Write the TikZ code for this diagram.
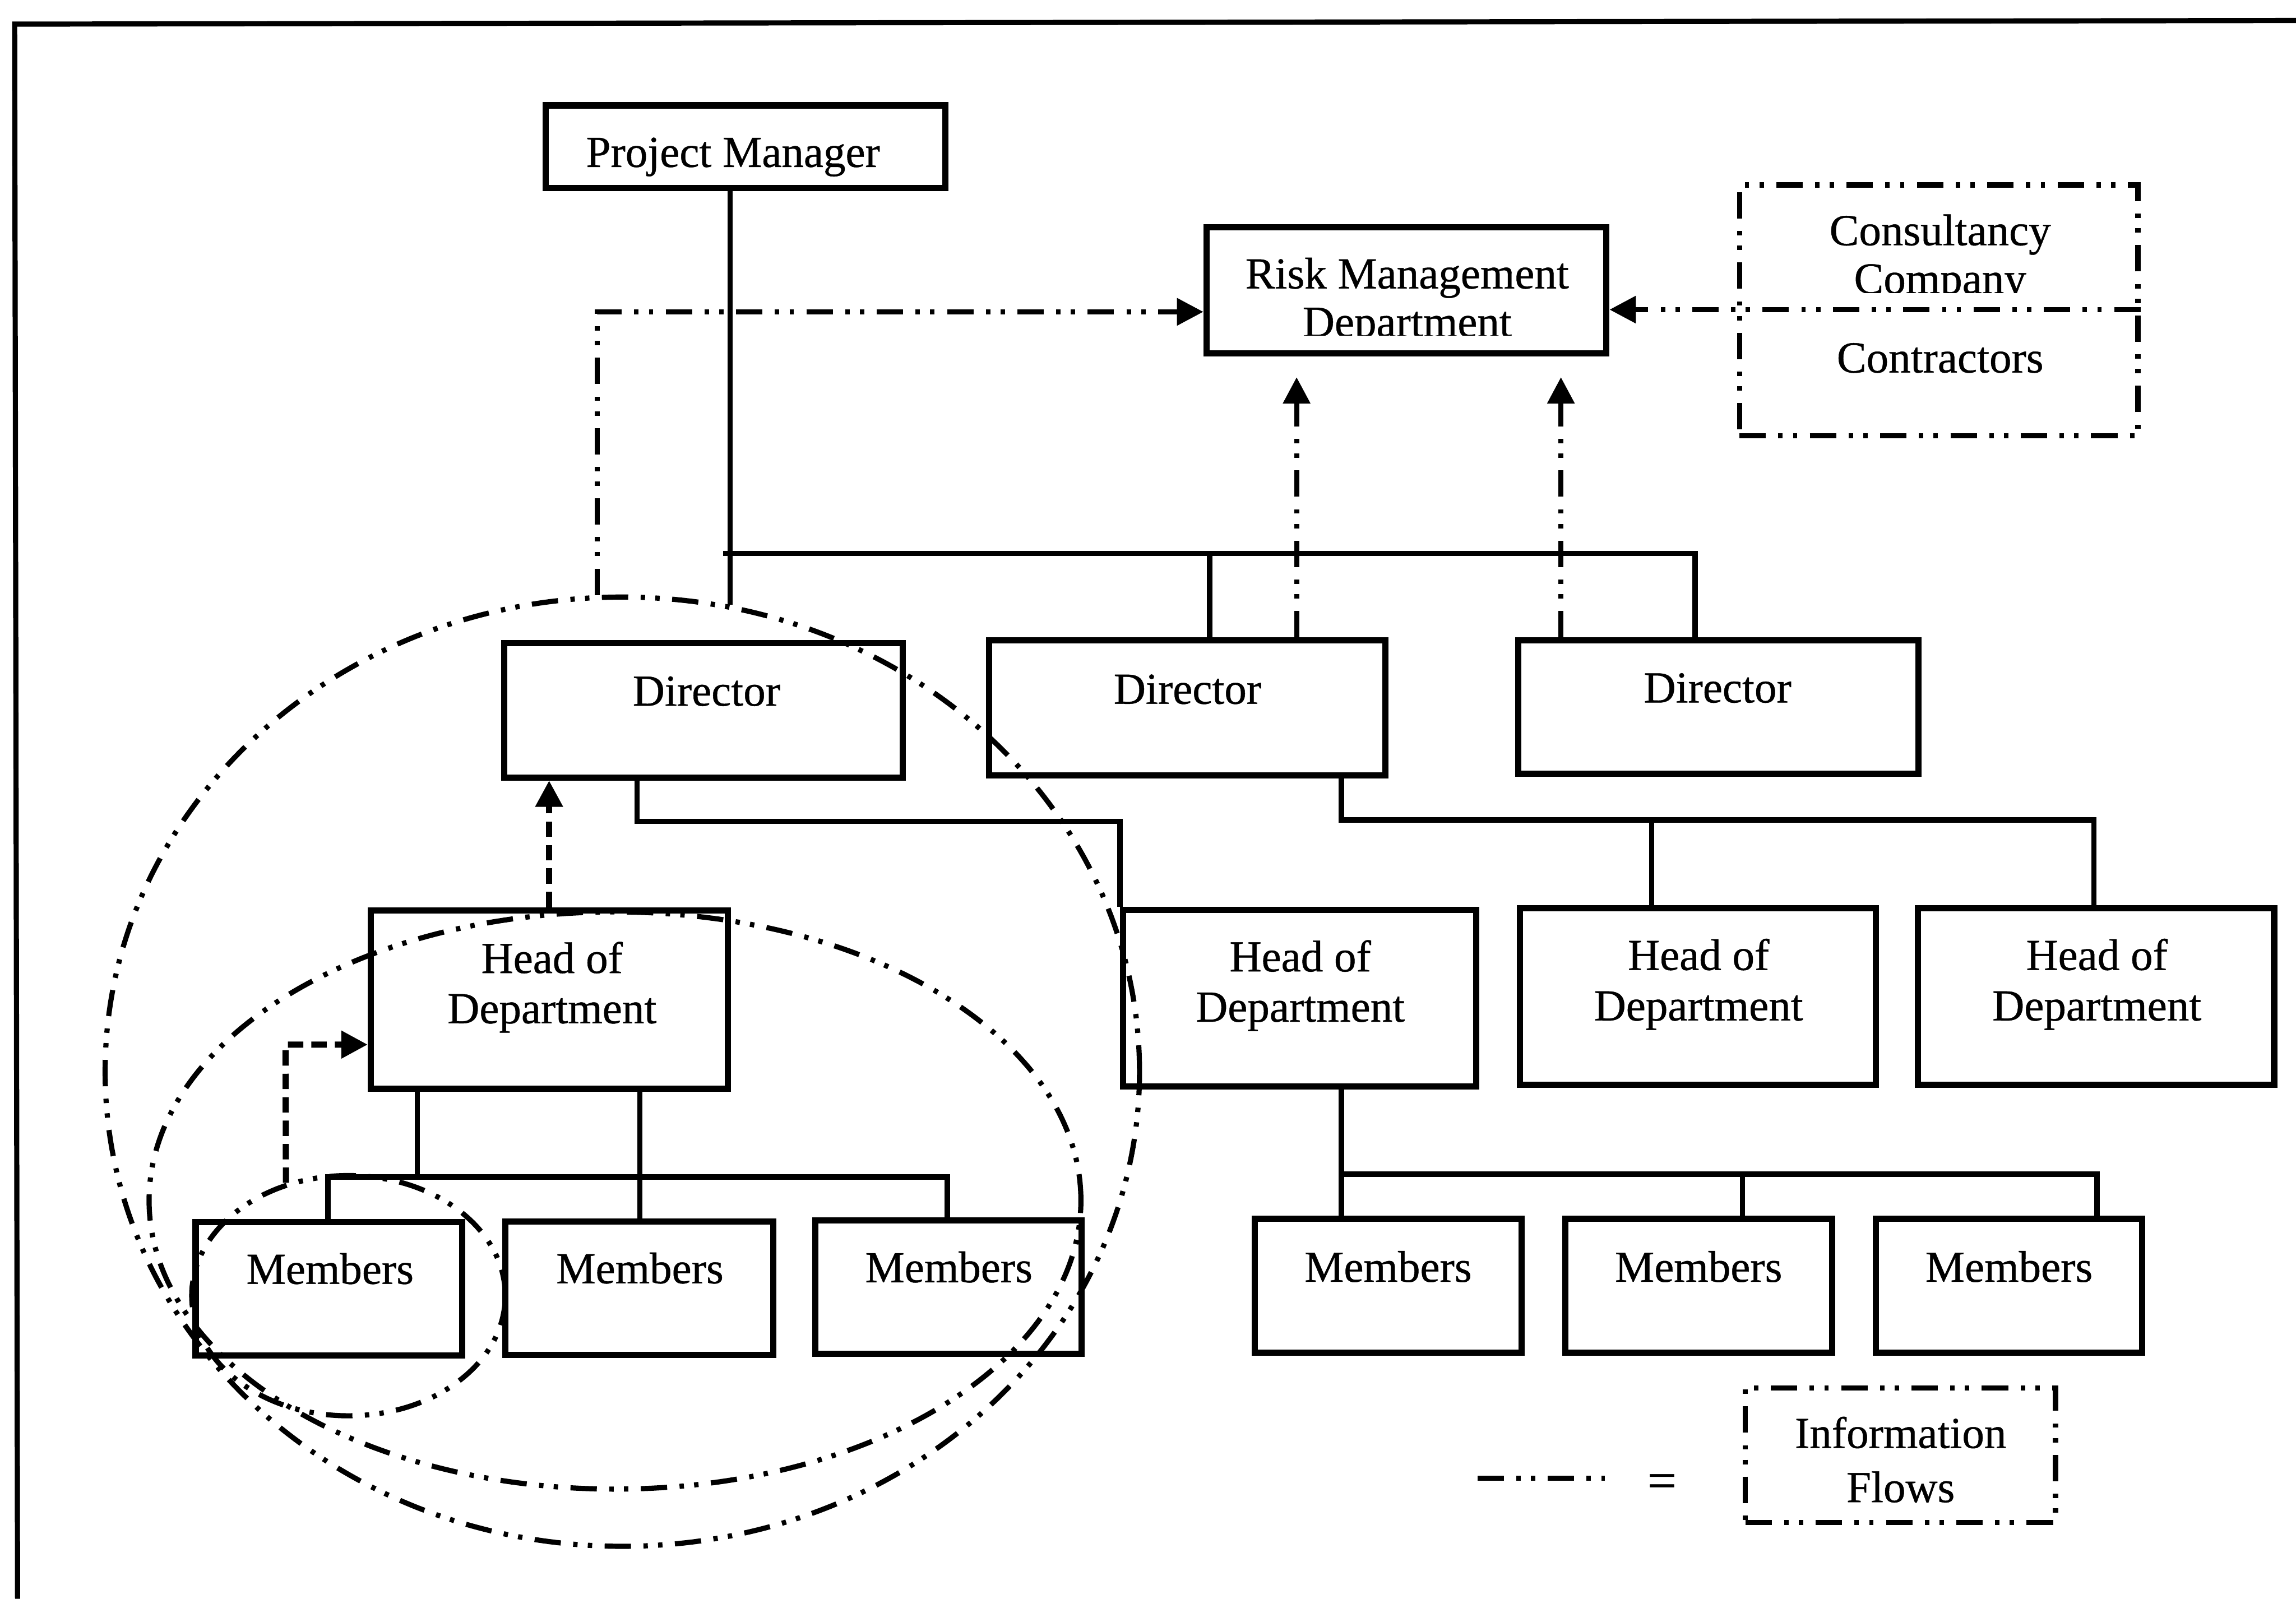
\documentclass[tikz,border=0pt]{standalone}
\usepackage{fontspec}
\setmainfont{Liberation Serif}[FakeBold=0.6]
\usetikzlibrary{arrows.meta,shapes.geometric}
\begin{document}
\begin{tikzpicture}[x=0.01cm, y=-0.01cm,
  box/.style={draw, line width=1.2pt, inner sep=0pt},
  txt/.style={anchor=base, inner sep=0pt, font=\fontsize{8.6}{9.5}\selectfont},
  link/.style={line width=1.05pt},
  flow/.style={line width=1pt, dash pattern=on 0.18cm off 0.085cm on 0.03cm off 0.07cm on 0.03cm off 0.085cm},
  report/.style={line width=1.2pt, dash pattern=on 0.105cm off 0.055cm},
  arrowhead/.style={-{Triangle[length=0.18cm,width=0.18cm]}},
  grp/.style={draw, ellipse, flow, inner sep=0pt}
]
\useasboundingbox (0,0) rectangle (1568,1092);

% page frame (top and left edges)
\coordinate (frTL) at (10,16.5);
\coordinate (frTR) at (1568,14);
\coordinate (frBL) at (12,1092);
\draw[line width=1pt] (frTR) -- (frTL) -- (frBL);

% ---------- boxes ----------
\node[box, minimum width=2.728cm, minimum height=0.566cm] (pm) at (509.1,100.3) {};
\node[txt] (pmt) at (500.6,114) {Project Manager};

\node[box, minimum width=2.73cm, minimum height=0.861cm] (risk) at (960.5,198.45) {};
\node[txt] (riskt1) at (961,197) {Risk Management};
\begin{scope}
  \clip (826,157) rectangle (1095,229);
  \node[txt] (riskt2) at (961,230) {Department};
\end{scope}

\node[box, flow, minimum width=2.72cm, minimum height=1.711cm] (cons) at (1324,211.95) {};
\node[txt] (const1) at (1325,167.5) {Consultancy};
\begin{scope}
  \clip (1190,128) rectangle (1458,200);
  \node[txt] (const2) at (1325,200.5) {Company};
\end{scope}
\node[txt] (contr) at (1325,254.4) {Contractors};

\node[box, minimum width=2.72cm, minimum height=0.915cm] (d1) at (480.6,485.25) {};
\node[box, minimum width=2.705cm, minimum height=0.92cm] (d2) at (810.75,483.5) {};
\node[box, minimum width=2.73cm, minimum height=0.91cm] (d3) at (1173.5,483) {};
\node[txt] (d1t) at (482.5,482) {Director};
\node[txt] (d2t) at (811,480.7) {Director};
\node[txt] (d3t) at (1173,479.8) {Director};

\node[box, minimum width=2.437cm, minimum height=1.218cm] (hod1) at (375.15,682.7) {};
\node[box, minimum width=2.41cm, minimum height=1.204cm] (hod2) at (887.5,681.8) {};
\node[box, minimum width=2.43cm, minimum height=1.205cm] (hod3) at (1159.5,680.75) {};
\node[box, minimum width=2.43cm, minimum height=1.205cm] (hod4) at (1431.5,680.75) {};
\node[txt] (hod1a) at (377,664.6) {Head of};
\node[txt] (hod1b) at (377,698.9) {Department};
\node[txt] (hod2a) at (888,663.5) {Head of};
\node[txt] (hod2b) at (888,697.8) {Department};
\node[txt] (hod3a) at (1160,662.5) {Head of};
\node[txt] (hod3b) at (1160,697) {Department};
\node[txt] (hod4a) at (1432,662.5) {Head of};
\node[txt] (hod4b) at (1432,697) {Department};

\node[box, minimum width=1.82cm, minimum height=0.91cm] (m1) at (224.65,880.15) {};
\node[box, minimum width=1.83cm, minimum height=0.91cm] (m2) at (436.5,880) {};
\node[box, minimum width=1.815cm, minimum height=0.91cm] (m3) at (647.75,879) {};
\node[box, minimum width=1.82cm, minimum height=0.915cm] (m4) at (948,878.25) {};
\node[box, minimum width=1.82cm, minimum height=0.915cm] (m5) at (1160,878.25) {};
\node[box, minimum width=1.82cm, minimum height=0.915cm] (m6) at (1372,878.25) {};
\node[txt] (m1t) at (225.4,876.9) {Members};
\node[txt] (m2t) at (437,876.5) {Members};
\node[txt] (m3t) at (648,875.8) {Members};
\node[txt] (m4t) at (948,875.5) {Members};
\node[txt] (m5t) at (1160,875.5) {Members};
\node[txt] (m6t) at (1372,875.5) {Members};

% ---------- reporting lines ----------
\coordinate (busA) at (494,378);
\coordinate (busB) at (435,561);
\coordinate (busC) at (916,560);
\coordinate (busD) at (224,804);
\coordinate (busE) at (916,802);

% group outlines
\node[grp, minimum width=7.06cm, minimum height=6.48cm] (grpdir) at (425,732) {};
\node[grp, minimum width=6.36cm, minimum height=3.94cm] (grphod) at (420,820) {};
\node[grp, minimum width=2.14cm, minimum height=1.64cm] (grpmem) at (238,885) {};

\draw[link] (grpdir.77.8) -- (grpdir.77.8 |- pm.south);
\draw[link] (busA) -- (1157.5,378) -- (d3.north -| 1157.5,0);
\draw[link] (826,378) -- (d2.north -| 826,0);

\draw[link] (d1.south -| busB) -- (busB) -| (hod2.north west);
\draw[link] (d2.south -| busC) -- (busC) -- (1430,560) -- (hod4.north -| 1430,0);
\draw[link] (1128,560) -- (hod3.north -| 1128,0);

\draw[link] (hod1.south -| 285,0) -- (285,804);
\draw[link] (m1.north -| busD) -- (busD) -- (647,804) -- (m3.north -| 647,0);
\draw[link] (hod1.south -| 437,0) -- (m2.north -| 437,0);

\draw[link] (hod2.south -| busE) -- (m4.north -| busE);
\draw[link] (busE) -- (1432,802) -- (m6.north -| 1432,0);
\draw[link] (1190,802) -- (m5.north -| 1190,0);

% ---------- information flows ----------
\coordinate (fl) at (405,213);
\coordinate (div) at (1324,211.5);
\draw[flow, arrowhead] (grpdir.93.54) -- (grpdir.93.54 |- fl) -- (risk.west |- fl);
\draw[flow, arrowhead] (cons.east |- div) -- (risk.east |- div);
\draw[flow, arrowhead, shorten >=0.14cm] (d2.north -| 885.5,0) -- (risk.south -| 885.5,0);
\draw[flow, arrowhead, shorten >=0.14cm] (d3.north -| 1066,0) -- (risk.south -| 1066,0);

\draw[report, arrowhead] (hod1.north -| 375,0) -- (d1.south -| 375,0);
\coordinate (rpc) at (195,713.5);
\draw[report, arrowhead] (grpmem.119.8) -- (rpc) -- (hod1.west |- rpc);

% ---------- legend ----------
\coordinate (lg1) at (1009,1009.6);
\coordinate (lg2) at (1096,1009.6);
\draw[flow] (lg1) -- (lg2);
\node[txt, font=\fontsize{10}{12}\selectfont] (eq) at (1135,1023) {=};
\node[box, flow, minimum width=2.117cm, minimum height=0.92cm] (leg) at (1297.85,994) {};
\node[txt] (legt1) at (1298,989) {Information};
\node[txt] (legt2) at (1298,1026) {Flows};
\end{tikzpicture}
\end{document}
